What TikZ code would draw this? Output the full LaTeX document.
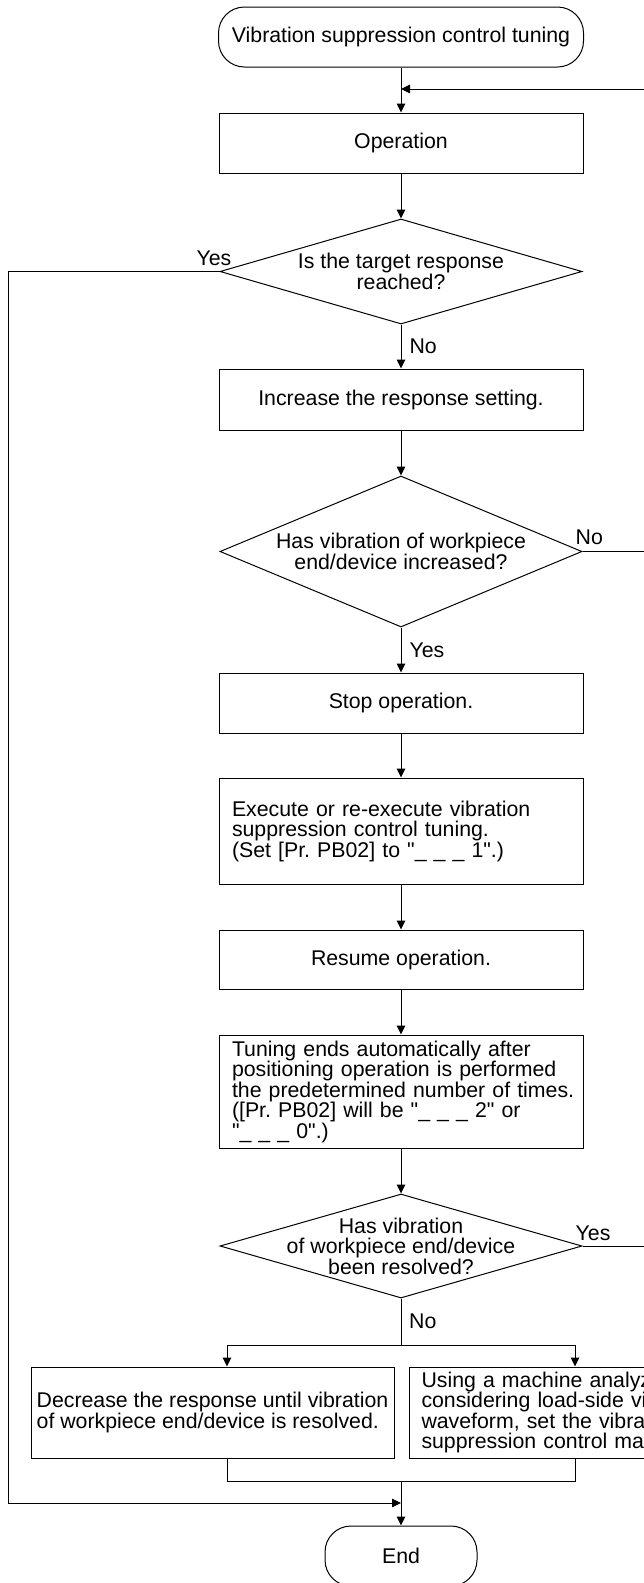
\documentclass[tikz,border=0pt]{standalone}
\usepackage{fontspec}
\setmainfont{Liberation Sans}[Ligatures=TeXOff]
\usetikzlibrary{arrows.meta,positioning,shapes.geometric}

\begin{document}
\begin{tikzpicture}[
        x=1pt,
        y=-1pt,
        node distance=45pt,
        every node/.style={
                font=\fontsize{21.3pt}{20.5pt}\selectfont\frenchspacing
            },
        terminal/.style={
                rectangle,
                rounded corners=26pt,
                draw=black,
                line width=1pt,
                minimum height=60pt,
                inner sep=0pt
            },
        process/.style={
                rectangle,
                draw=black,
                line width=1pt,
                minimum width=364pt,
                minimum height=60pt,
                align=center
            },
        leftbox/.style={
                process,
                text width=338pt,
                inner xsep=13pt,
                align=left
            },
        decision/.style={
                diamond,
                draw=black,
                line width=1pt,
                minimum width=362pt,
                aspect=3,
                inner xsep=-100pt,
                inner ysep=-25pt,
                align=center
            },
        lbl/.style={
                inner sep=0pt
            },
        flow/.style={
                draw=black,
                line width=1pt,
                -{Triangle[length=9pt,width=8.5pt]}
            }
    ]

    \useasboundingbox (0,0) rectangle (644,1583);
    \clip (0,0) rectangle (644,1583);

    % main column
    \node[terminal, minimum width=365pt] (startterm) at (401,37) {Vibration suppression control tuning};
    \node[process, below=of startterm] (operation) {Operation};
    \node[decision, minimum height=105pt, below=of operation] (target) {Is the target response\\reached?};
    \node[process, minimum height=61pt, below=44pt of target] (increase) {Increase the response setting.};
    \node[decision, minimum height=151pt, below=of increase] (vibinc) {Has vibration of workpiece\\end/device increased?};
    \node[process, below=of vibinc] (stopop) {Stop operation.};
    \node[leftbox, minimum height=106pt, below=44pt of stopop] (execute) {Execute or re-execute vibration\\suppression control tuning.\\(Set [Pr. PB02] to "\_ \_ \_ 1".)};
    \node[process, minimum height=59pt, below=of execute] (resume) {Resume operation.};
    \node[leftbox, minimum height=113pt, below=of resume] (tuning) {Tuning ends automatically after\\positioning operation is performed\\\mbox{the predetermined number of times.}\\([Pr. PB02] will be "\_ \_ \_ 2" or\\"\_ \_ \_ 0".)};
    \node[decision, minimum height=104pt, below=of tuning] (resolved) {Has vibration\\of workpiece end/device\\been resolved?};

    % the two ways out
    \node[process, minimum width=363pt, minimum height=91pt, align=left] (decrease) at (212.5,1412.5) {Decrease the response until vibration\\of workpiece end/device is resolved.};
    \node[leftbox, text width=340pt, inner xsep=7pt, minimum height=91pt, anchor=west] (manual) at (409,1412.5) {Using a machine analyzer,\\considering load-side vibration\\waveform, set the vibration\\suppression control manually.};
    \node[terminal, minimum width=152pt] (endterm) at (401,1556) {End};

    \coordinate (backrail) at (660,89);
    \coordinate (leftrail) at (8,1503);
    \coordinate (joinend) at (401,1503);
    \coordinate (splitpt) at (401,1345);
    \coordinate (splitL) at (227,1345);
    \coordinate (splitR) at (575,1345);
    \coordinate (mergeL) at (227,1481);
    \coordinate (mergeR) at (575,1481);
    \coordinate (mergept) at (401,1481);

    \draw[flow] (startterm) -- (operation);
    \draw[flow] (operation) -- (target);
    \draw[flow] (target) -- node[lbl, right=8pt] (notarget) {No} (increase);
    \draw[flow] (increase) -- (vibinc);
    \draw[flow] (vibinc) -- node[lbl, right=8pt] (yesvib) {Yes} (stopop);
    \draw[flow] (stopop) -- (execute);
    \draw[flow] (execute) -- (resume);
    \draw[flow] (resume) -- (tuning);
    \draw[flow] (tuning) -- (resolved);
    \draw (resolved) -- node[lbl, right=8pt] (nores) {No} (splitpt);

    % split and merge
    \draw (splitL) -- (splitR);
    \draw[flow] (splitL) -- (splitL |- decrease.north);
    \draw[flow] (splitR) -- (splitR |- manual.north);
    \draw (splitL |- decrease.south) -- (mergeL) -- (mergeR) -- (splitR |- manual.south);
    \draw[flow] (mergept) -- (endterm);

    % loops
    \node[lbl, anchor=base east] (yestarget) at ([xshift=12pt,yshift=6pt]target.west) {Yes};
    \draw[flow] (target.west) -| (leftrail) -- (joinend);
    \node[lbl, anchor=base west] (novib) at ([xshift=-7pt,yshift=7pt]vibinc.east) {No};
    \node[lbl, anchor=base west] (yesres) at ([xshift=-7pt,yshift=5.5pt]resolved.east) {Yes};
    \draw (vibinc.east) -- (vibinc.east -| backrail);
    \draw[flow] (resolved.east) -| (backrail) -- (backrail -| startterm.south);

\end{tikzpicture}
\end{document}
